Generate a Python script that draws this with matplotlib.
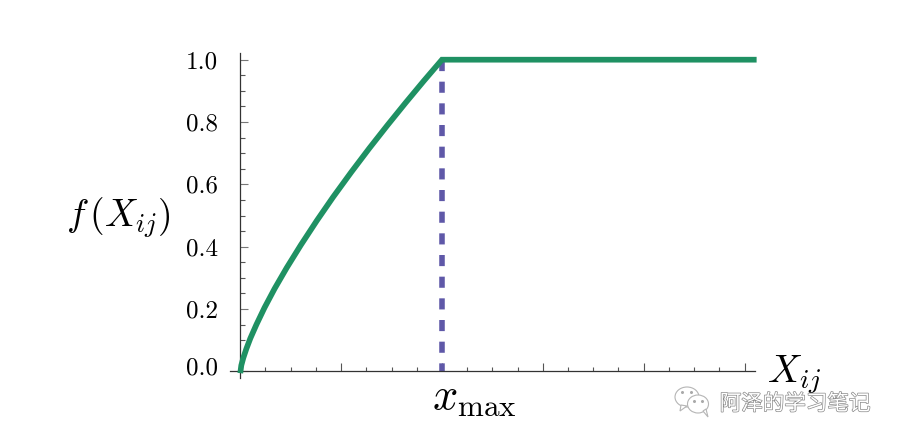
import matplotlib
matplotlib.use("Agg")
import matplotlib.pyplot as plt
import matplotlib.patheffects as pe
from matplotlib.patches import Ellipse, Polygon
from matplotlib.ticker import MultipleLocator, FixedFormatter, FixedLocator
from matplotlib.transforms import ScaledTranslation

plt.rcParams['mathtext.fontset'] = 'cm'
plt.rcParams['font.family'] = ['cmr10', 'DejaVu Sans']
plt.rcParams['axes.formatter.use_mathtext'] = True

curve_x = [0.0, 0.005, 0.015, 0.03, 0.05, 0.08, 0.12, 0.17, 0.23, 0.3, 0.38, 0.46, 0.55, 0.64, 0.73, 0.82, 0.91, 1.0, 2.56]
curve_y = [-0.006, 0.019, 0.043, 0.072, 0.106, 0.150, 0.204, 0.265, 0.332, 0.405, 0.484, 0.559, 0.639, 0.716, 0.790, 0.862, 0.932, 1.0, 1.0]
xmax_x = [1.0, 1.0]
xmax_y = [1.0, 0.0]
y_ticks = [0.0, 0.2, 0.4, 0.6, 0.8, 1.0]
y_labels = ["0.0", "0.2", "0.4", "0.6", "0.8", "1.0"]
x_major = [0.0, 0.5, 1.0, 1.5, 2.0, 2.5]
watermark = "阿泽的学习笔记"

W, H = 901, 444
fig = plt.figure(figsize=(W / 100, H / 100), dpi=100)
L, R, T, B = 230, 755, 53, 378
ax = fig.add_axes([L / W, 1 - B / H, (R - L) / W, (B - T) / H])
ax.set_xlim(-0.051, 2.552)
ax.set_ylim(-0.0215, 1.0215)
ax.patch.set_visible(False)

for s in ("top", "right"):
    ax.spines[s].set_visible(False)
for s in ("left", "bottom"):
    ax.spines[s].set_position(("data", 0))
    ax.spines[s].set_color("#333333")
    ax.spines[s].set_linewidth(0.9)

ax.yaxis.set_major_locator(FixedLocator(y_ticks))
ax.yaxis.set_major_formatter(FixedFormatter(y_labels))
ax.yaxis.set_minor_locator(MultipleLocator(0.05))
ax.xaxis.set_major_locator(FixedLocator(x_major))
ax.xaxis.set_minor_locator(MultipleLocator(0.125))
ax.xaxis.set_major_formatter(FixedFormatter([]))
ax.tick_params(axis="y", which="major", direction="in", length=6, width=0.8, color="#777777", labelsize=18, pad=16)
ax.tick_params(axis="y", which="minor", direction="in", length=3.6, width=0.8, color="#555555")
ax.tick_params(axis="x", which="major", direction="in", length=5.5, width=0.8, color="#555555")
ax.tick_params(axis="x", which="minor", direction="in", length=3.2, width=0.8, color="#555555")
fig.canvas.draw()
lab0 = ax.yaxis.get_major_ticks()[0].label1
lab0.set_transform(lab0.get_transform() + ScaledTranslation(0, 5 / 100, fig.dpi_scale_trans))

ax.plot(xmax_x, xmax_y, color="#5f58a8", lw=4.0, dashes=(2.0, 1.9), dash_capstyle="butt", clip_on=False, zorder=2)
ax.plot(curve_x, curve_y, color="#1f9163", lw=4.1, solid_joinstyle="miter", solid_capstyle="butt", clip_on=False, zorder=3)

fig.text(118 / W, 1 - 218 / H, r"$f\,(X_{ij})$", fontsize=27, ha="center", va="center")
fig.text(474 / W, 1 - 398 / H, r"$x_{\mathrm{max}}$", fontsize=32, ha="center", va="center")
fig.text(794 / W, 1 - 375 / H, r"$X_{ij}$", fontsize=28, ha="center", va="center")

# watermark
ow = fig.add_axes([0, 0, 1, 1])
ow.set_xlim(0, W)
ow.set_ylim(H, 0)
ow.axis("off")
ow.patch.set_visible(False)
for cx, cy, w, h in [(687, 397, 24, 20), (698, 404, 21, 18)]:
    ow.add_patch(Ellipse((cx, cy), w, h, fc="white", ec="#b5b5b5", lw=0.8))
ow.add_patch(Polygon([[681, 405], [680, 411], [687, 406]], fc="white", ec="#b5b5b5", lw=0.8))
ow.add_patch(Polygon([[703, 411], [708, 417], [706, 409]], fc="white", ec="#b5b5b5", lw=0.8))
for dx, dy in [(682, 392), (691, 392), (694, 401), (702, 401)]:
    ow.plot([dx], [dy], "o", ms=1.2, color="#aaaaaa")
ow.text(795, 404, watermark, family="Noto Sans CJK SC", fontsize=15.5, ha="center", va="center", color="white",
        path_effects=[pe.withStroke(linewidth=1.0, foreground="#8a8a8a")])

fig.savefig("out.png", dpi=100, facecolor="white")
